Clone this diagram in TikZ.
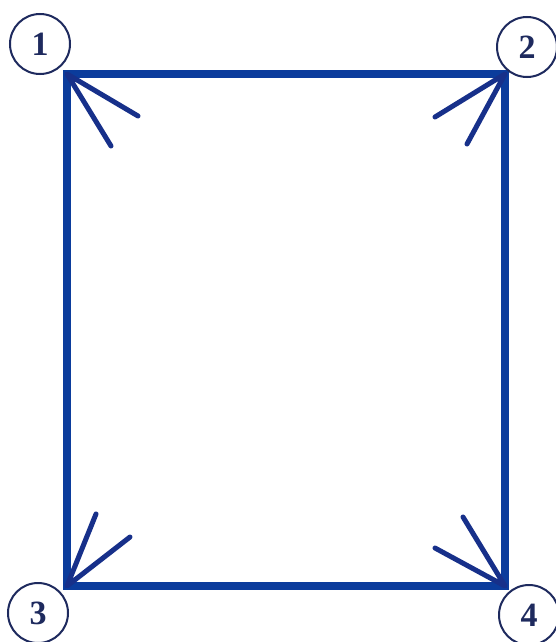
\documentclass[tikz,border=0pt]{standalone}
\usepackage{tikz}
\usepackage{fontspec}
\setmainfont{Liberation Serif}
\definecolor{edgeblue}{HTML}{0B3C9C}
\definecolor{armblue}{HTML}{17308A}
\definecolor{ringnavy}{HTML}{1E2A5E}
\tikzset{
  edge/.style={line width=8pt, edgeblue, line join=miter},
  arm/.style={line width=5pt, armblue, line cap=round, line join=round},
  corner label/.style={circle, draw=ringnavy, line width=2pt, text=ringnavy,
    minimum size=60pt, inner sep=0pt, font=\fontsize{34}{34}\selectfont\bfseries}
}
\begin{document}
\begin{tikzpicture}[x=1pt, y=-1pt]
        \useasboundingbox (0,0) rectangle (556,642);
        \fill[white] (0,0) rectangle (556,642);

        % corners of the frame
        \coordinate (c1) at (67,74);
        \coordinate (c2) at (505,74);
        \coordinate (c3) at (67,586);
        \coordinate (c4) at (505,586);

        \draw[edge] (c1) -- (c2) -- (c4) -- (c3) -- cycle;

        % open arrow heads in each corner
        \draw[arm] (138,116) -- (c1) -- (111,146);
        \draw[arm] (435,117) -- (c2) -- (467,144);
        \draw[arm] (96,514) -- (c3) -- (130,537);
        \draw[arm] (435,548) -- (c4) -- (463,517);

        % numbered rings
        \node[corner label] (n1) at (40,44) {1};
        \node[corner label] (n2) at (527,47) {2};
        \node[corner label] (n3) at (38,613) {3};
        \node[corner label] (n4) at (529,615) {4};
    \end{tikzpicture}
\end{document}
